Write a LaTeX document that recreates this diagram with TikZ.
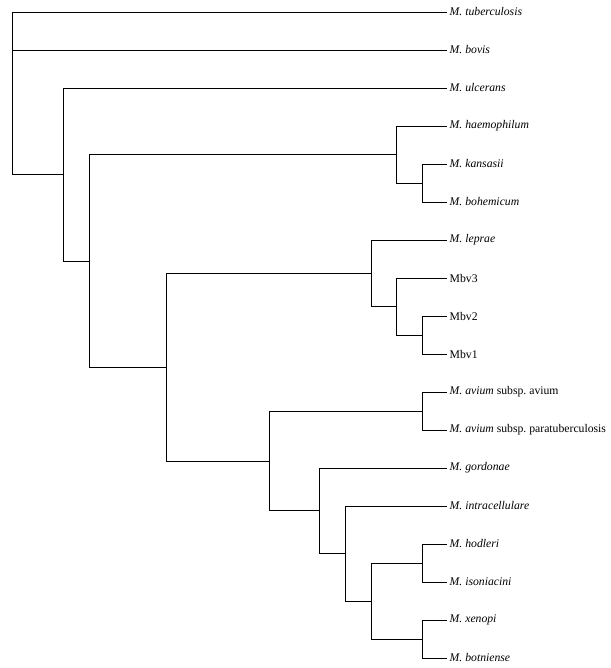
\documentclass[tikz,border=0pt]{standalone}
\usepackage{fontspec}
\setmainfont{Liberation Serif}

\begin{document}
\begin{tikzpicture}[x=1pt,y=-1pt,line join=miter,
    branch/.style={line width=.9pt},
    taxon/.style={anchor=west,inner sep=2.5pt,
      font=\fontsize{11.7}{13}\selectfont}]
    \useasboundingbox (0,0) rectangle (610,668);

    % Taxa, one row every 38 units.
    \node[taxon] (tub) at (447,12) {\textit{M. tuberculosis}};
    \node[taxon] (bov) at (447,50) {\textit{M. bovis}};
    \node[taxon] (ulc) at (447,88) {\textit{M. ulcerans}};
    \node[taxon] (hae) at (447,126) {\textit{M. haemophilum}};
    \node[taxon] (kan) at (447,164) {\textit{M. kansasii}};
    \node[taxon] (boh) at (447,202) {\textit{M. bohemicum}};
    \node[taxon] (lep) at (447,240) {\textit{M. leprae}};
    \node[taxon] (mb3) at (447,278) {Mbv3};
    \node[taxon] (mb2) at (447,316) {Mbv2};
    \node[taxon] (mb1) at (447,354) {Mbv1};
    \node[taxon] (avi) at (447,392) {\textit{M. avium} subsp.\ avium};
    \node[taxon] (par) at (447,430) {\textit{M. avium} subsp.\ paratuberculosis};
    \node[taxon] (gor) at (447,468) {\textit{M. gordonae}};
    \node[taxon] (int) at (447,506) {\textit{M. intracellulare}};
    \node[taxon] (hod) at (447,544) {\textit{M. hodleri}};
    \node[taxon] (iso) at (447,582) {\textit{M. isoniacini}};
    \node[taxon] (xen) at (447,620) {\textit{M. xenopi}};
    \node[taxon] (bot) at (447,658) {\textit{M. botniense}};

    % Internal nodes.
    \coordinate (root) at (12,93);
    \coordinate (nU) at (63,174.5);
    \coordinate (nA) at (89,261);
    \coordinate (nH) at (396,154.5);
    \coordinate (nK) at (422,183);
    \coordinate (nB) at (166,367);
    \coordinate (nL) at (371,273);
    \coordinate (nM) at (396,306);
    \coordinate (nV) at (422,335);
    \coordinate (nC) at (269,461);
    \coordinate (nAv) at (422,411);
    \coordinate (nG) at (319,510.5);
    \coordinate (nI) at (345,553);
    \coordinate (nX) at (371,601);
    \coordinate (nHo) at (422,563);
    \coordinate (nXe) at (422,639);

    % Branches.
    \draw[branch] (root) |- (tub.west);
    \draw[branch] (root) |- (bov.west);
    \draw[branch] (root) |- (nU);
    \draw[branch] (nU) |- (ulc.west);
    \draw[branch] (nU) |- (nA);
    \draw[branch] (nA) |- (nH);
    \draw[branch] (nA) |- (nB);
    \draw[branch] (nH) |- (hae.west);
    \draw[branch] (nH) |- (nK);
    \draw[branch] (nK) |- (kan.west);
    \draw[branch] (nK) |- (boh.west);
    \draw[branch] (nB) |- (nL);
    \draw[branch] (nB) |- (nC);
    \draw[branch] (nL) |- (lep.west);
    \draw[branch] (nL) |- (nM);
    \draw[branch] (nM) |- (mb3.west);
    \draw[branch] (nM) |- (nV);
    \draw[branch] (nV) |- (mb2.west);
    \draw[branch] (nV) |- (mb1.west);
    \draw[branch] (nC) |- (nAv);
    \draw[branch] (nC) |- (nG);
    \draw[branch] (nAv) |- (avi.west);
    \draw[branch] (nAv) |- (par.west);
    \draw[branch] (nG) |- (gor.west);
    \draw[branch] (nG) |- (nI);
    \draw[branch] (nI) |- (int.west);
    \draw[branch] (nI) |- (nX);
    \draw[branch] (nX) |- (nHo);
    \draw[branch] (nX) |- (nXe);
    \draw[branch] (nHo) |- (hod.west);
    \draw[branch] (nHo) |- (iso.west);
    \draw[branch] (nXe) |- (xen.west);
    \draw[branch] (nXe) |- (bot.west);
  \end{tikzpicture}
\end{document}
